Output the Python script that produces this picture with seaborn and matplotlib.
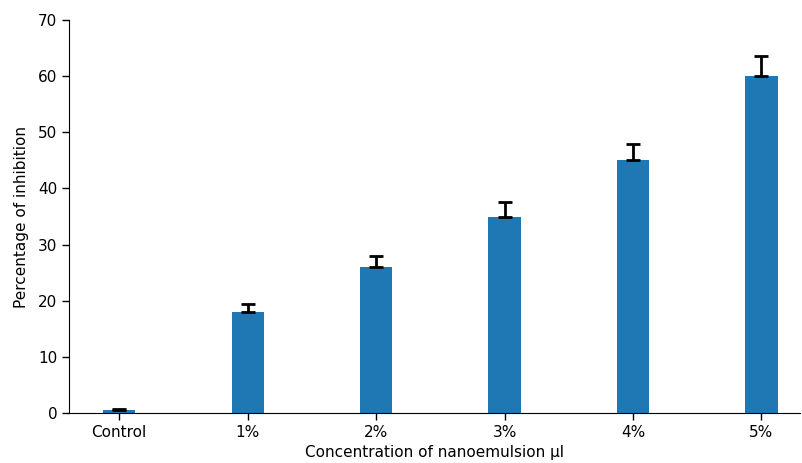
import numpy as np
import matplotlib
matplotlib.use("Agg")
import matplotlib.pyplot as plt
import seaborn as sns

categories = ["Control", "1%", "2%", "3%", "4%", "5%"]
inhibition = [0.5, 18, 26, 35, 45, 60]
errors = [0.25, 1.5, 2.0, 2.5, 3.0, 3.5]

sns.set_style("ticks")
plt.rcParams['font.family'] = ['DejaVu Sans']
plt.rcParams.update({
    "text.color": "black",
    "axes.labelcolor": "black",
    "axes.edgecolor": "black",
    "xtick.color": "black",
    "ytick.color": "black",
})

fig, ax = plt.subplots(figsize=(8.02, 4.63), dpi=100)
fig.subplots_adjust(left=69/802, right=800/802, top=1-20/463, bottom=1-413/463)

sns.barplot(x=categories, y=inhibition, width=0.25, color="#1f77b4",
            saturation=1, linewidth=0, ax=ax)
ax.errorbar(np.arange(len(categories)), inhibition,
            yerr=[np.zeros(len(errors)), errors],
            fmt="none", ecolor="black", elinewidth=2, capsize=5, capthick=2)

ax.set_xlim(-0.39, 5.3)
ax.set_ylim(0, 70)
ax.set_xlabel("Concentration of nanoemulsion µl", fontsize=11, labelpad=4)
ax.set_ylabel("Percentage of inhibition", fontsize=11, labelpad=6)
ax.tick_params(labelsize=11, length=5, width=1)
sns.despine(ax=ax)

fig.savefig("out.png", dpi=100)
